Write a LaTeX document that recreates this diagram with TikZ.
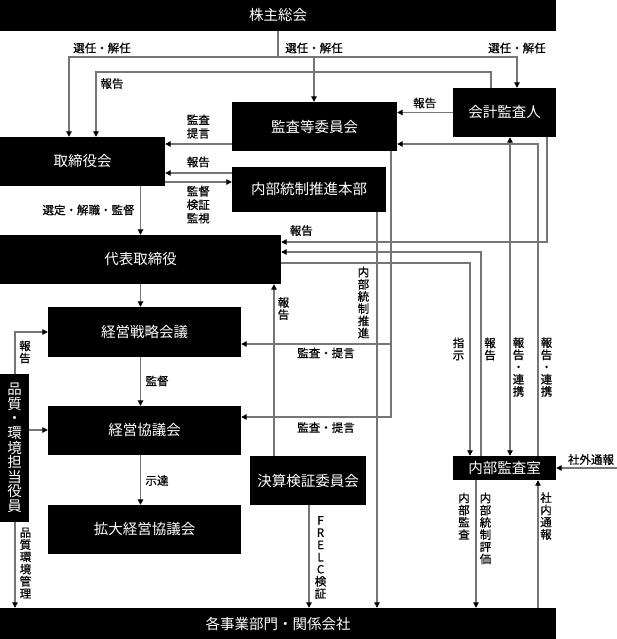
\documentclass[tikz,border=0pt]{standalone}
\usepackage{fontspec}
\setmainfont{Noto Sans CJK JP}
\newfontfamily\labfont[FakeBold=0.6]{Noto Sans CJK JP}
\usetikzlibrary{arrows.meta}
\definecolor{lncol}{HTML}{767676}
\tikzset{
 box/.style={fill=black, text=white, inner sep=0pt, align=center, font=\fontsize{14.5}{14.6}\selectfont},
 lab/.style={font=\labfont\fontsize{11.5}{13.5}\selectfont, inner sep=0pt, align=center},
 vlab/.style={font=\labfont\fontsize{11.5}{12.2}\selectfont, inner sep=0pt, align=center},
 ln/.style={draw=lncol, line width=1.2pt},
 tip/.tip={Triangle[length=5.5pt,width=5.5pt,color=black]},
 arr/.style={ln, -tip},
 darr/.style={ln, tip-tip},
}
\begin{document}
\begin{tikzpicture}[x=1pt,y=-1pt]
\useasboundingbox (0,0) rectangle (617,639);
% boxes
\node[box, minimum width=556pt, minimum height=31pt] (kabu) at (278,15.5) {株主総会};
\node[box, minimum width=103pt, minimum height=49pt] (kaikei) at (504.5,112.5) {会計監査人};
\node[box, minimum width=165pt, minimum height=49pt] (kansa) at (314.5,126.5) {監査等委員会};
\node[box, minimum width=165pt, minimum height=49pt] (torishimari) at (82.5,161.5) {取締役会};
\node[box, minimum width=154pt, minimum height=45pt] (naibu) at (309,189.5) {内部統制推進本部};
\node[box, minimum width=281pt, minimum height=49pt] (daihyo) at (140.5,259.5) {代表取締役};
\node[box, minimum width=193pt, minimum height=50pt] (senryaku) at (144.5,332) {経営戦略会議};
\node[box, minimum width=193pt, minimum height=49pt] (kyogi) at (144.5,430.5) {経営協議会};
\node[box, minimum width=193pt, minimum height=49pt] (kakudai) at (144.5,529.5) {拡大経営協議会};
\node[box, minimum width=29pt, minimum height=148pt] (hinshitsu) at (14.5,448) {品\\質\\・\\環\\境\\担\\当\\役\\員};
\node[box, minimum width=116pt, minimum height=49pt] (kessan) at (308,480.5) {決算検証委員会};
\node[box, minimum width=103pt, minimum height=24pt] (naibukansa) at (504.5,468) {内部監査室};
\node[box, minimum width=556pt, minimum height=31pt] (bottom) at (278,623.5) {各事業部門・関係会社};
% coordinates
\coordinate (s1) at (69,57);
\coordinate (s2) at (314,57);
\coordinate (s3) at (517,57);
\coordinate (r1) at (491,72);
\coordinate (r2) at (96,72);
\coordinate (y144) at (0,144);
\coordinate (y173) at (0,173);
\coordinate (y182) at (0,182);
\coordinate (k1) at (538,144);
\coordinate (g1) at (547,242);
\coordinate (h1) at (481,252);
\coordinate (i1) at (470,263);
\coordinate (j1) at (510,300);
\coordinate (l1) at (391,417);
\coordinate (l2) at (391,344);
\coordinate (m1) at (377,400);
\coordinate (n1) at (274,400);
\coordinate (o1) at (309,550);
\coordinate (t1) at (15,332);
\coordinate (t2) at (0,430);
\coordinate (v1) at (476,550);
\coordinate (x1) at (617,468);
% shareholders
\draw[ln] (kabu.south) -- (kabu.south |- s1);
\draw[arr] (s2) -- (s1) -- (s1 |- torishimari.north);
\draw[arr] (s2) -- (s3) -- (s3 |- kaikei.north);
\draw[arr] (s2) -- (s2 |- kansa.north);
% auditor reports
\draw[arr] (r1 |- kaikei.north) -- (r1) -- (r2) -- (r2 |- torishimari.north);
\draw[arr] (kaikei.west) -- (kaikei.west -| kansa.east);
\draw[arr] (kansa.west |- y144) -- (torishimari.east |- y144);
\draw[arr] (naibu.west |- y173) -- (torishimari.east |- y173);
\draw[arr] (torishimari.east |- y182) -- (naibu.west |- y182);
\draw[arr] (daihyo.north |- torishimari.south) -- (daihyo.north);
% right side
\draw[arr] (k1 |- naibukansa.north) -- (k1) -- (k1 -| kansa.east);
\draw[arr] (g1 |- kaikei.south) -- (g1) -- (g1 -| daihyo.east);
\draw[arr] (h1 |- naibukansa.north) -- (h1) -- (h1 -| daihyo.east);
\draw[arr] (i1 -| daihyo.east) -- (i1) -- (i1 |- naibukansa.north);
\draw[darr] (j1 |- kaikei.south) -- (j1 |- naibukansa.north);
% audit committee to management
\draw[arr] (l1 |- kansa.south) -- (l1) -- (l1 -| kyogi.east);
\draw[arr] (l2) -- (l2 -| senryaku.east);
\draw[arr] (m1 |- naibu.south) -- (m1 |- bottom.north);
\draw[arr] (n1 |- kessan.north) -- (n1 |- daihyo.south);
\draw[arr] (o1 |- kessan.south) -- (o1 |- bottom.north);
% management chain
\draw[arr] (daihyo.south) -- (daihyo.south |- senryaku.north);
\draw[arr] (daihyo.south |- senryaku.south) -- (daihyo.south |- kyogi.north);
\draw[arr] (daihyo.south |- kyogi.south) -- (daihyo.south |- kakudai.north);
% quality officer
\draw[arr] (t1 |- hinshitsu.north) -- (t1) -- (t1 -| senryaku.west);
\draw[arr] (t2 -| hinshitsu.east) -- (t2 -| kyogi.west);
\draw[arr] (t1 |- hinshitsu.south) -- (t1 |- bottom.north);
% internal audit
\draw[arr] (v1 |- naibukansa.south) -- (v1 |- bottom.north);
\draw[arr] (k1 |- bottom.north) -- (k1 |- naibukansa.south);
\draw[arr] (x1) -- (x1 -| naibukansa.east);
% labels
\node[lab] (la1) at (102,48) {選任・解任};
\node[lab] (la2) at (314,48) {選任・解任};
\node[lab] (la3) at (517,48) {選任・解任};
\node[lab] (la4) at (112,83.5) {報告};
\node[lab] (la5) at (424.7,103) {報告};
\node[lab] (la6) at (198.3,126.5) {監査\\提言};
\node[lab] (la7) at (198.3,162) {報告};
\node[lab] (la8) at (198.3,204.7) {監督\\検証\\監視};
\node[lab] (la9) at (88.5,210) {選定・解職・監督};
\node[lab] (la10) at (301.3,230.6) {報告};
\node[vlab] (la11) at (363.5,302.5) {内\\部\\統\\制\\推\\進};
\node[vlab] (la12) at (283.5,308.5) {報\\告};
\node[lab] (la13) at (326,353) {監査・提言};
\node[lab] (la14) at (326,427.5) {監査・提言};
\node[vlab] (la15) at (458.5,349) {指\\示};
\node[vlab] (la16) at (490,349) {報\\告};
\node[vlab] (la17) at (518.5,367) {報\\告\\・\\連\\携};
\node[vlab] (la18) at (546.5,367) {報\\告\\・\\連\\携};
\node[lab] (la19) at (157,381) {監督};
\node[lab] (la20) at (157,480.5) {示達};
\node[vlab] (la21) at (25,352) {報\\告};
\node[vlab] (la22) at (25.5,563) {品\\質\\環\\境\\管\\理};
\node[vlab] (la23) at (320.5,557.5) {F\\R\\E\\L\\C\\検\\証};
\node[vlab] (la24) at (464,516) {内\\部\\監\\査};
\node[vlab] (la25) at (485.5,528.5) {内\\部\\統\\制\\評\\価};
\node[vlab] (la26) at (546,516) {社\\内\\通\\報};
\node[lab] (la27) at (591,459.5) {社外通報};
\end{tikzpicture}
\end{document}
